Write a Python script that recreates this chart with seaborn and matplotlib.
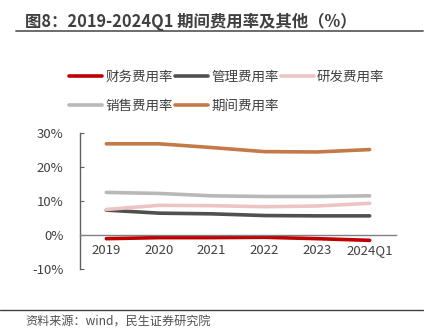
import matplotlib
matplotlib.use("Agg")
import matplotlib.pyplot as plt
import seaborn as sns
import pandas as pd
from matplotlib.lines import Line2D

sns.set_theme(style="white")
plt.rcParams['font.family'] = ['Noto Sans CJK SC', 'DejaVu Sans']
plt.rcParams['axes.unicode_minus'] = False

categories = ["2019", "2020", "2021", "2022", "2023", "2024Q1"]
finance = [-1.0, -0.7, -0.7, -0.6, -1.0, -1.5]
admin = [7.4, 6.5, 6.3, 5.8, 5.7, 5.7]
rnd = [7.6, 8.8, 8.7, 8.4, 8.6, 9.4]
sales = [12.6, 12.3, 11.6, 11.4, 11.4, 11.6]
period = [26.9, 26.9, 25.8, 24.6, 24.5, 25.2]
series_names = ["财务费用率", "管理费用率", "研发费用率", "销售费用率", "期间费用率"]
yticks = [-10, 0, 10, 20, 30]

colors = ["#C00000", "#505050", "#EDC4C4", "#B8B8B8", "#C47A48"]

rows = []
for name, vals in zip(series_names, [finance, admin, rnd, sales, period]):
    for i, v in enumerate(vals):
        rows.append({"x": i, "cat": categories[i], "series": name, "value": v})
df = pd.DataFrame(rows)

fig = plt.figure(figsize=(4.29, 3.32), dpi=100)
ax = fig.add_axes([0.1865, 0.189, 0.7365, 0.4096])

sns.lineplot(data=df, x="x", y="value", hue="series", hue_order=series_names,
             palette=colors, linewidth=2.6, ax=ax, legend=False, sort=False)

ax.set_xlim(-0.5, 5.5)
ax.set_ylim(-10, 30)
ax.set_yticks(yticks)
ax.set_yticklabels([f"{t}%" for t in yticks])
ax.set_xticks(range(len(categories)))
ax.set_xticklabels(categories)
ax.set_xlabel("")
ax.set_ylabel("")

for s in ["top", "right"]:
    ax.spines[s].set_visible(False)
ax.spines["bottom"].set_position(("data", 0))
ax.spines["bottom"].set_color("#808080")
ax.spines["bottom"].set_linewidth(1.0)
ax.spines["left"].set_color("#606060")
ax.spines["left"].set_linewidth(1.0)

ax.tick_params(axis="y", direction="in", length=3, width=0.8, color="#606060",
               labelsize=9.5, labelcolor="#404040", pad=12, left=True)
ax.tick_params(axis="x", length=0, labelsize=9.5, labelcolor="#404040", pad=6, bottom=False)

# legend (row-wise order with ncol=3)
handles = [Line2D([0], [0], color=c, lw=2.6) for c in colors]
order = [0, 3, 1, 4, 2]
fig.legend([handles[i] for i in order], [series_names[i] for i in order],
           loc="upper left", bbox_to_anchor=(0.162, 0.79),
           ncol=3, frameon=False, fontsize=9.7, handlelength=2.4, handletextpad=0.25,
           columnspacing=0.2, labelspacing=1.1, borderpad=0, borderaxespad=0,
           labelcolor="#404040")

# title and rules
fig.text(0.058, 0.933, "图8：2019-2024Q1 期间费用率及其他（%）", fontsize=11.8,
         fontweight="bold", color="#404040", va="center", ha="left")
fig.add_artist(Line2D([0.037, 0.986], [0.906, 0.906], color="#606060", lw=1.3,
                      transform=fig.transFigure))
fig.add_artist(Line2D([0.0, 0.986], [0.066, 0.066], color="#404040", lw=1.0,
                      transform=fig.transFigure))
fig.text(0.058, 0.030, "资料来源：wind，民生证券研究院", fontsize=8.7,
         color="#505050", va="center", ha="left")

fig.savefig("out.png", dpi=100)
